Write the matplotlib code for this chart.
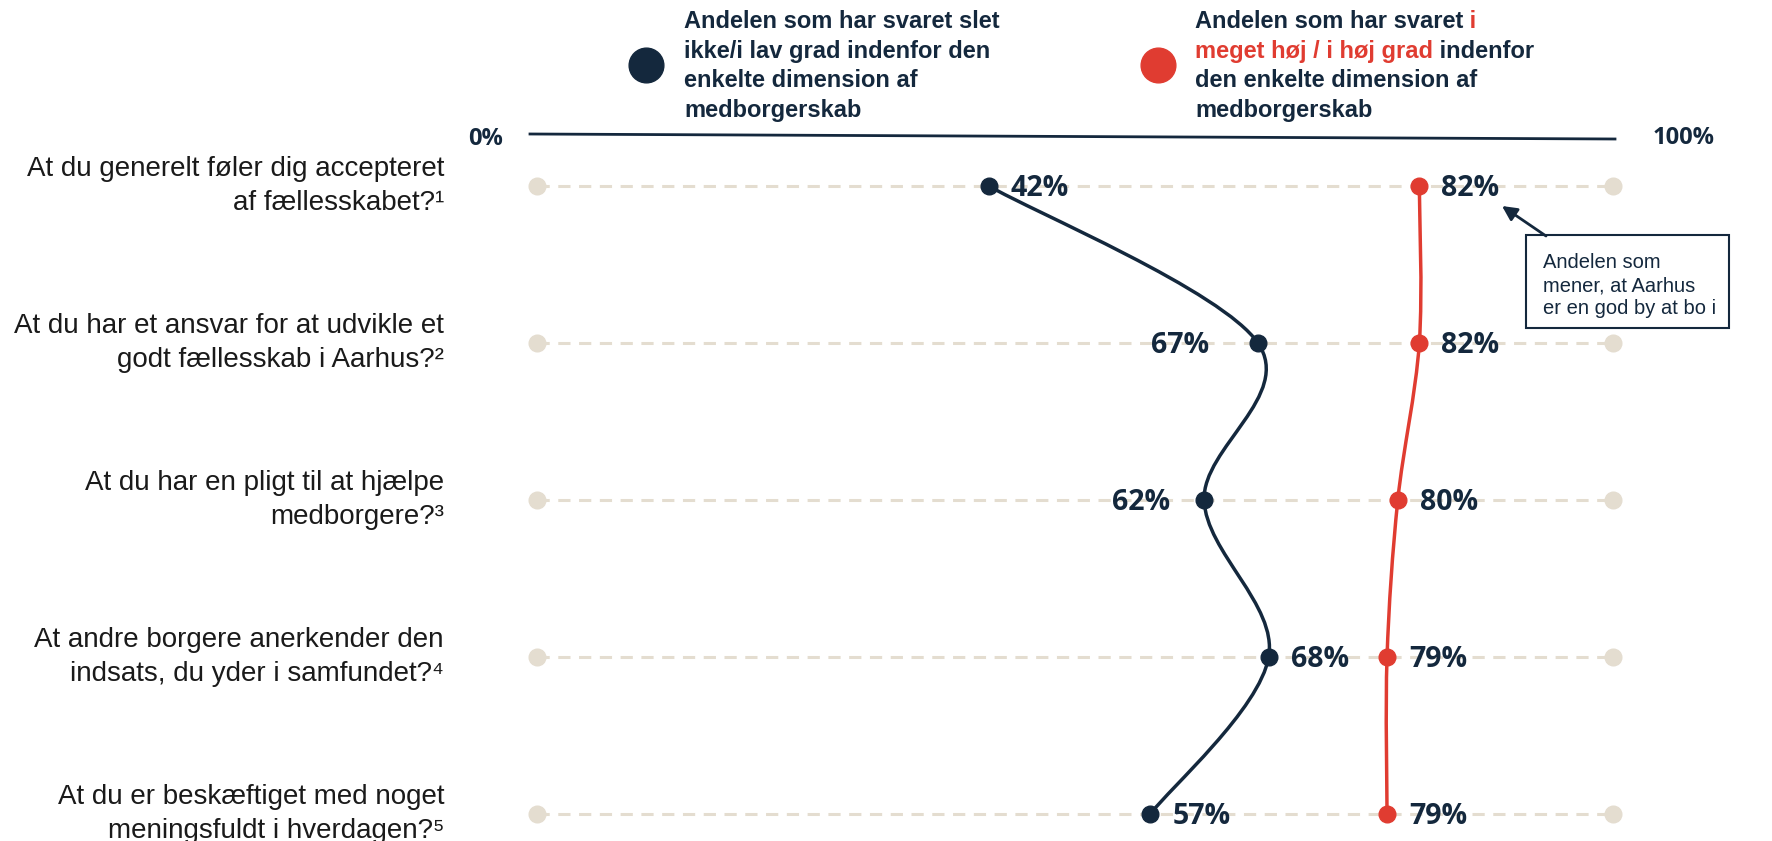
#Medborgerskab - andel lav vs hoej grad per dimension
import numpy as np
import matplotlib
matplotlib.use('Agg')
from matplotlib import pyplot as plt
from matplotlib.path import Path
from matplotlib.patches import PathPatch, Rectangle
from matplotlib.lines import Line2D

#Data
questions = [
    ["At du generelt føler dig accepteret", "af fællesskabet?\u00b9"],
    ["At du har et ansvar for at udvikle et", "godt fællesskab i Aarhus?\u00b2"],
    ["At du har en pligt til at hjælpe", "medborgere?\u00b3"],
    ["At andre borgere anerkender den", "indsats, du yder i samfundet?\u2074"],
    ["At du er beskæftiget med noget", "meningsfuldt i hverdagen?\u2075"],
]
low_share = [42, 67, 62, 68, 57]
high_share = [82, 82, 80, 79, 79]
axis_labels = ["0%", "100%"]
low_legend = ["Andelen som har svaret slet", "ikke/i lav grad indenfor den",
              "enkelte dimension af", "medborgerskab"]
note_text = ["Andelen som", "mener, at Aarhus", "er en god by at bo i"]

#Colours
navy = '#14283d'
red = '#e03c31'
grid = '#e4ddd0'
txt = '#1a1a1a'

W, H = 1772, 841
#pixel positions of 0% / 100% and of first row, row spacing
x0, x100 = 537, 1613
row0, rowstep = 186, 157
pxper = (x100 - x0) / 100.0

fig = plt.figure(figsize=(W / 100, H / 100), dpi=100)
ax = fig.add_axes([0, 0, 1, 1])
ax.set_xlim(-x0 / pxper, (W - x0) / pxper)
ax.set_ylim((H - row0) / rowstep, -row0 / rowstep)
ax.axis('off')

def fp(x, y):
    #figure pixel (from top-left) to figure fraction
    return x / W, 1 - y / H

sans = ['Liberation Sans', 'DejaVu Sans']
num = ['Open Sans', 'DejaVu Sans']
rows = np.arange(len(low_share))

#Dashed guide lines with end dots
for r in rows:
    ax.plot([0, 100], [r, r], ls=(0, (4, 2.8)), lw=2.2, color=grid, zorder=1)
    ax.plot([0, 100], [r, r], 'o', ms=12, color=grid, zorder=1)

#Smooth (catmull-rom style) curve through the points
def smooth_path(xs, ys):
    pts = np.column_stack([xs, ys]).astype(float)
    n = len(pts)
    verts = [pts[0]]
    codes = [Path.MOVETO]
    for i in range(n - 1):
        p_prev = pts[max(i - 1, 0)]
        p_next = pts[min(i + 2, n - 1)]
        c1 = pts[i] + (pts[i + 1] - p_prev) / 6.0
        c2 = pts[i + 1] - (p_next - pts[i]) / 6.0
        verts += [c1, c2, pts[i + 1]]
        codes += [Path.CURVE4] * 3
    return Path(verts, codes)

for vals, col in [(low_share, navy), (high_share, red)]:
    ax.add_patch(PathPatch(smooth_path(vals, rows), fill=False, edgecolor=col,
                           lw=2.5, zorder=3, capstyle='round'))
    ax.plot(vals, rows, 'o', ms=12, color=col, zorder=4)

#Value labels (offset in pixels from the dot)
low_off = [22, -49, -34, 22, 22]
high_off = [22, 22, 22, 22, 22]
for vals, offs in [(low_share, low_off), (high_share, high_off)]:
    for r, v, o in zip(rows, vals, offs):
        ax.annotate(f"{v}%", xy=(v, r), xytext=(o * 0.72, -2),
                    textcoords='offset points', ha='left' if o > 0 else 'right',
                    va='center', fontsize=20.5, fontweight='bold', family=num,
                    color=navy, zorder=5)

#Question labels
for r, q in zip(rows, questions):
    ypx = row0 + r * rowstep
    fig.text(*fp(444, ypx - 10), q[0], ha='right', va='baseline',
             fontsize=20, family=sans, color=txt)
    fig.text(*fp(444, ypx + 24), q[1], ha='right', va='baseline',
             fontsize=20, family=sans, color=txt)

#Top scale line with 0% / 100%
fig.add_artist(Line2D([530 / W, 1615 / W], [1 - 134 / H, 1 - 139 / H],
                      color=navy, lw=2, transform=fig.transFigure))
fig.text(*fp(503, 139), axis_labels[0], ha='right', va='center', fontsize=17,
         fontweight='bold', family=num, color=navy)
fig.text(*fp(1653, 138), axis_labels[1], ha='left', va='center', fontsize=17,
         fontweight='bold', family=num, color=navy)

#Legend
base = [28, 58, 87, 117]
fig.add_artist(Line2D([646 / W], [1 - 65 / H], marker='o', ms=25, color=navy,
                      transform=fig.transFigure))
fig.add_artist(Line2D([1158 / W], [1 - 65 / H], marker='o', ms=25, color=red,
                      transform=fig.transFigure))
for b, line in zip(base, low_legend):
    fig.text(*fp(684, b), line, ha='left', va='baseline', fontsize=17,
             fontweight='bold', family=sans, color=navy)

lk = dict(fontsize=17, fontweight='bold', family=sans)
t1 = fig.text(*fp(1195, base[0]), "Andelen som har svaret", ha='left',
              va='baseline', color=navy, **lk)
ax.annotate(" i", xy=(1, 0), xycoords=t1, ha='left', va='bottom', color=red, **lk)
t2 = fig.text(*fp(1195, base[1]), "meget høj / i høj grad", ha='left',
              va='baseline', color=red, **lk)
ax.annotate(" indenfor", xy=(1, 0), xycoords=t2, ha='left', va='bottom',
            color=navy, **lk)
fig.text(*fp(1195, base[2]), "den enkelte dimension af", ha='left',
         va='baseline', color=navy, **lk)
fig.text(*fp(1195, base[3]), "medborgerskab", ha='left', va='baseline',
         color=navy, **lk)

#Note box with arrow
bx0, by0, bx1, by1 = 1526, 235, 1729, 328
fig.add_artist(Rectangle((bx0 / W, 1 - by1 / H), (bx1 - bx0) / W, (by1 - by0) / H,
                         transform=fig.transFigure, fill=False, edgecolor=navy,
                         lw=1.5, zorder=6))
for i, line in enumerate(note_text):
    fig.text(*fp(1543, 262 + i * 23.5), line, ha='left', va='center',
             fontsize=14.5, family=sans, color=navy)
ax.annotate('', xy=fp(1502, 206), xycoords='figure fraction',
            xytext=fp(1546, 236), textcoords='figure fraction',
            arrowprops=dict(arrowstyle='-|>', color=navy, lw=2,
                            mutation_scale=22, shrinkA=0, shrinkB=0))

fig.savefig('out.png', dpi=100, facecolor='white')
